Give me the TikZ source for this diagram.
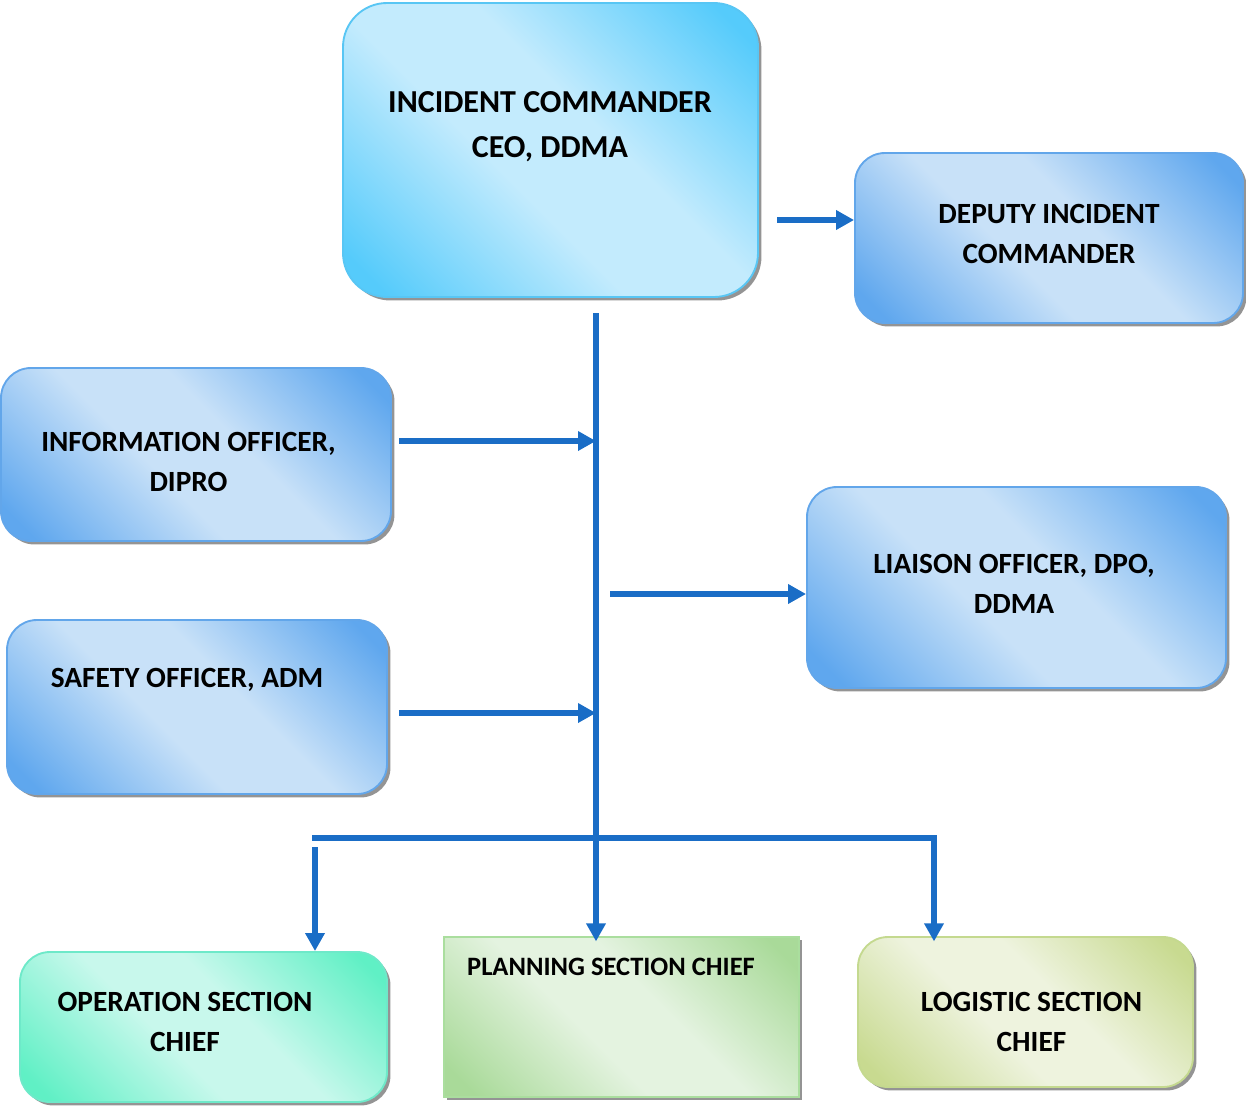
\documentclass[tikz,border=0pt]{standalone}
\usepackage{fontspec}
\setmainfont{Carlito}
\usetikzlibrary{arrows.meta,shadows}
\definecolor{arrowblue}{HTML}{1A6DC6}
\definecolor{icdark}{HTML}{55CBFB}
\definecolor{iclight}{HTML}{C3EBFD}
\definecolor{icborder}{HTML}{58C6F4}
\definecolor{bldark}{HTML}{5FA7EE}
\definecolor{bllight}{HTML}{C8E1F8}
\definecolor{blborder}{HTML}{62A6EA}
\definecolor{opdark}{HTML}{60F0C5}
\definecolor{oplight}{HTML}{C8F8EC}
\definecolor{opborder}{HTML}{6EE9C9}
\definecolor{pldark}{HTML}{A9DA99}
\definecolor{pllight}{HTML}{E4F3E0}
\definecolor{plborder}{HTML}{AADE9E}
\definecolor{lgdark}{HTML}{C8DA90}
\definecolor{lglight}{HTML}{EEF3DE}
\definecolor{lgborder}{HTML}{C4D98F}
\pgfdeclareverticalshading{icsh}{100bp}{color(0bp)=(icdark); color(19bp)=(icdark); color(43bp)=(iclight); color(57bp)=(iclight); color(81bp)=(icdark); color(100bp)=(icdark)}
\pgfdeclareverticalshading{blsh}{100bp}{color(0bp)=(bldark); color(19bp)=(bldark); color(43bp)=(bllight); color(57bp)=(bllight); color(81bp)=(bldark); color(100bp)=(bldark)}
\pgfdeclareverticalshading{opsh}{100bp}{color(0bp)=(opdark); color(19bp)=(opdark); color(43bp)=(oplight); color(57bp)=(oplight); color(81bp)=(opdark); color(100bp)=(opdark)}
\pgfdeclareverticalshading{plsh}{100bp}{color(0bp)=(pldark); color(19bp)=(pldark); color(43bp)=(pllight); color(57bp)=(pllight); color(81bp)=(pldark); color(100bp)=(pldark)}
\pgfdeclareverticalshading{lgsh}{100bp}{color(0bp)=(lgdark); color(19bp)=(lgdark); color(43bp)=(lglight); color(57bp)=(lglight); color(81bp)=(lgdark); color(100bp)=(lgdark)}
\tikzset{
  box/.style={draw, line width=1.4pt, inner sep=0pt,
    drop shadow={shadow xshift=2.6pt, shadow yshift=-2.6pt, fill=black, opacity=0.42}},
  icshade/.style={shade, shading=icsh, shading angle=-45, draw=icborder},
  blshade/.style={shade, shading=blsh, shading angle=-45, draw=blborder},
  opshade/.style={shade, shading=opsh, shading angle=-45, draw=opborder},
  plshade/.style={shade, shading=plsh, shading angle=-45, draw=plborder},
  lgshade/.style={shade, shading=lgsh, shading angle=-45, draw=lgborder},
  txt/.style={font=\bfseries\fontsize{22}{30}\selectfont, align=center, anchor=base, inner sep=0pt},
  conn/.style={draw=arrowblue, line width=4pt, -{Triangle[length=13.5pt,width=14pt]}},
}
\begin{document}
\begin{tikzpicture}[x=0.75pt,y=-0.75pt]
\useasboundingbox (0,0) rectangle (1246,1107);
% boxes
\node[box, icshade, rounded corners=33pt, minimum width=311.25pt, minimum height=220.5pt] (ic) at (550.5,150) {};
\node[box, blshade, rounded corners=22.5pt, minimum width=291pt, minimum height=127.5pt] (dep) at (1049,238) {};
\node[box, blshade, rounded corners=22.5pt, minimum width=292.5pt, minimum height=129.75pt] (info) at (196,454.5) {};
\node[box, blshade, rounded corners=22.5pt, minimum width=314.25pt, minimum height=150.75pt] (liaison) at (1016.5,587.5) {};
\node[box, blshade, rounded corners=22.5pt, minimum width=285pt, minimum height=130.5pt] (safety) at (197,707) {};
\node[box, opshade, rounded corners=22.5pt, minimum width=275.25pt, minimum height=112.5pt] (oper) at (203.5,1027) {};
\node[box, plshade, minimum width=266.25pt, minimum height=120pt] (plan) at (621.5,1017) {};
\node[box, lgshade, rounded corners=22.5pt, minimum width=251.25pt, minimum height=112.5pt] (logi) at (1025.5,1012) {};
% texts (base anchor = baseline of the last line)
\node[txt, font=\bfseries\fontsize{24}{33.75}\selectfont] (icT) at (550,157) {INCIDENT COMMANDER\\CEO, DDMA};
\node[txt] (depT) at (1049,263) {DEPUTY INCIDENT\\COMMANDER};
\node[txt] (infoT) at (188.5,491) {INFORMATION OFFICER,\\DIPRO};
\node[txt] (liaisonT) at (1014,613) {LIAISON OFFICER, DPO,\\DDMA};
\node[txt] (safetyT) at (187,687) {SAFETY OFFICER, ADM};
\node[txt] (operT) at (185,1051) {OPERATION SECTION\\CHIEF};
\node[txt, font=\bfseries\fontsize{19.9}{26}\selectfont] (planT) at (611,975) {PLANNING SECTION CHIEF};
\node[txt] (logiT) at (1031.5,1051) {LOGISTIC SECTION\\CHIEF};
% connector points
\coordinate (trunkTop) at (596,313);
\coordinate (jInfo) at (596,441);
\coordinate (jSafety) at (596,713);
\coordinate (liaisonStart) at (610,594);
\coordinate (depStart) at (777,220);
\coordinate (infoStart) at (399,441);
\coordinate (safeStart) at (399,713);
\coordinate (busL) at (312,838);
\coordinate (busR) at (934,838);
\coordinate (opStart) at (315,847);
% connectors
\draw[conn] (depStart) -- (depStart -| dep.west);
\draw[conn] (infoStart) -- (jInfo);
\draw[conn] (safeStart) -- (jSafety);
\draw[conn] (liaisonStart) -- (liaisonStart -| liaison.west);
\draw[conn, shorten >=-4pt] (trunkTop) -- (trunkTop |- plan.north);
\draw[conn, shorten >=-4pt] (busL) -- (busR) -- (busR |- logi.north);
\draw[conn] (opStart) -- (opStart |- oper.north);
\end{tikzpicture}
\end{document}
